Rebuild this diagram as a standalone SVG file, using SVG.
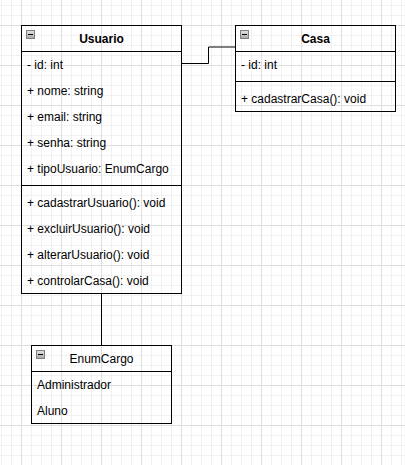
<svg xmlns="http://www.w3.org/2000/svg" width="405" height="465" viewBox="0 0 405 465">
<defs>
<pattern id="minor" patternUnits="userSpaceOnUse" x="1" y="5" width="10" height="10">
<path d="M0.5 0V10M0 0.5H10" stroke="#f1f1f1" stroke-width="1" fill="none"/>
</pattern>
<pattern id="major" patternUnits="userSpaceOnUse" x="21" y="25" width="40" height="40">
<path d="M0.5 0V40M0 0.5H40" stroke="#dedede" stroke-width="1" fill="none"/>
</pattern>
<linearGradient id="ig" x1="0" y1="0" x2="0" y2="1">
<stop offset="0" stop-color="#e4e4e4"/>
<stop offset="1" stop-color="#a8a8a8"/>
</linearGradient>
<g id="icon">
<rect x="0.5" y="0.5" width="8" height="8" fill="url(#ig)" stroke="#808080"/>
<path d="M2 4.5H7" stroke="#000" stroke-width="1"/>
</g>
</defs>
<style>
.box{fill:none;stroke:#000;stroke-width:1}
.t{font-family:"Liberation Sans",Arial,Helvetica,sans-serif;font-size:12px;fill:#000}
.h{font-family:"Liberation Sans",Arial,Helvetica,sans-serif;font-size:12px;fill:#000;text-anchor:middle}
.b{font-weight:bold}
.c{fill:none;stroke:#000;stroke-width:1}
</style>
<rect width="405" height="465" fill="#fff"/>
<rect width="405" height="465" fill="url(#minor)"/>
<rect width="405" height="465" fill="url(#major)"/>

<g id="connectors">
<path class="c" d="M181.5 63.5H208.5V47H235"/>
<path class="c" d="M101.5 293.5V345.5"/>
</g>

<g id="Usuario">
<rect class="box" x="21.5" y="25.5" width="160" height="268"/>
<path class="c" d="M21.5 51.5H181.5M21.5 185.5H181.5"/>
<use href="#icon" x="26" y="30"/>
<text class="h b" x="101.5" y="42.5">Usuario</text>
<text class="t" x="27" y="68.5">- id: int</text>
<text class="t" x="27" y="94.5">+ nome: string</text>
<text class="t" x="27" y="120.5">+ email: string</text>
<text class="t" x="27" y="146.5">+ senha: string</text>
<text class="t" x="27" y="172.5">+ tipoUsuario: EnumCargo</text>
<text class="t" x="27" y="206.5">+ cadastrarUsuario(): void</text>
<text class="t" x="27" y="232.5">+ excluirUsuario(): void</text>
<text class="t" x="27" y="258.5">+ alterarUsuario(): void</text>
<text class="t" x="27" y="284.5">+ controlarCasa(): void</text>
</g>

<g id="Casa">
<rect class="box" x="235.5" y="25.5" width="160" height="86"/>
<path class="c" d="M235.5 51.5H395.5M235.5 81.5H395.5"/>
<use href="#icon" x="240" y="30"/>
<text class="h b" x="315.5" y="42.5">Casa</text>
<text class="t" x="241" y="68.5">- id: int</text>
<text class="t" x="241" y="102.5">+ cadastrarCasa(): void</text>
</g>

<g id="EnumCargo">
<rect class="box" x="31.5" y="345.5" width="140" height="78"/>
<path class="c" d="M31.5 371.5H171.5"/>
<use href="#icon" x="36" y="350"/>
<text class="h" x="101.5" y="362.5">EnumCargo</text>
<text class="t" x="37" y="388.5">Administrador</text>
<text class="t" x="37" y="414.5">Aluno</text>
</g>
</svg>
